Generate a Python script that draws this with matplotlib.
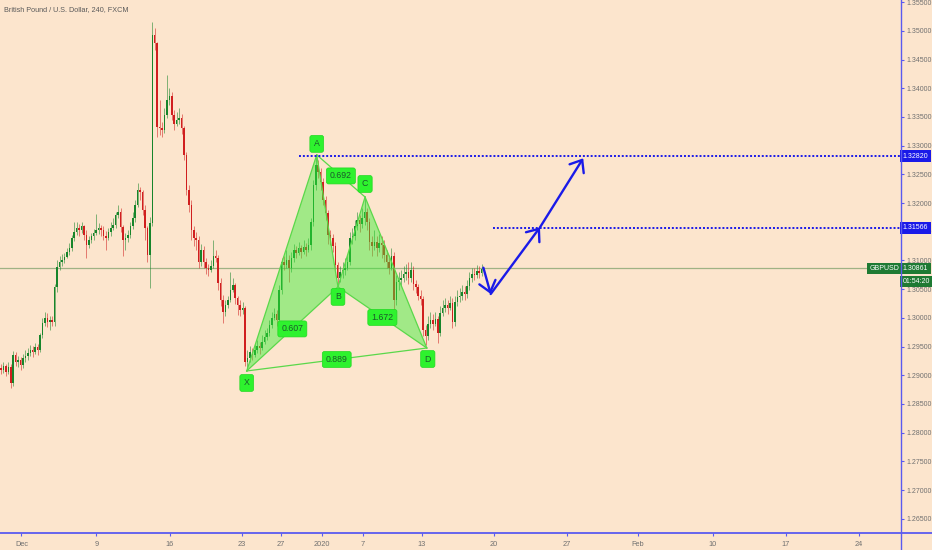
import matplotlib
matplotlib.use("Agg")
import matplotlib.pyplot as plt
import numpy as np
from matplotlib.lines import Line2D

plt.rcParams["font.family"] = ["Liberation Sans", "DejaVu Sans"]

# GBPUSD 4h candles, open = previous close
first_open = 1.2913
closes = [1.2909, 1.2916, 1.2906, 1.2914, 1.2887, 1.2935, 1.2923, 1.2927, 1.2918, 1.2930,
          1.2934, 1.2939, 1.2944, 1.2941, 1.2949, 1.2944, 1.2970, 1.2991, 1.3000, 1.2993,
          1.2996, 1.2993, 1.3054, 1.3089, 1.3097, 1.3101, 1.3106, 1.3115, 1.3122, 1.3139,
          1.3150, 1.3157, 1.3153, 1.3160, 1.3144, 1.3127, 1.3136, 1.3143, 1.3148, 1.3153,
          1.3157, 1.3153, 1.3143, 1.3139, 1.3150, 1.3157, 1.3162, 1.3179, 1.3185, 1.3158,
          1.3136, 1.3139, 1.3144, 1.3160, 1.3174, 1.3197, 1.3223, 1.3219, 1.3188, 1.3157,
          1.3110, 1.3165, 1.3493, 1.3479, 1.3333, 1.3331, 1.3327, 1.3354, 1.3380, 1.3387,
          1.3354, 1.3338, 1.3345, 1.3348, 1.3331, 1.3284, 1.3223, 1.3197, 1.3153, 1.3139,
          1.3136, 1.3097, 1.3118, 1.3097, 1.3087, 1.3084, 1.3090, 1.3108, 1.3104, 1.3061,
          1.3031, 1.3010, 1.3022, 1.3031, 1.3049, 1.3057, 1.3035, 1.3022, 1.3014, 1.3017,
          1.2923, 1.2930, 1.2941, 1.2935, 1.2944, 1.2951, 1.2948, 1.2958, 1.2967, 1.2974,
          1.2988, 1.3000, 1.3007, 1.2996, 1.3049, 1.3097, 1.3092, 1.3101, 1.3087, 1.3104,
          1.3118, 1.3113, 1.3122, 1.3115, 1.3124, 1.3118, 1.3127, 1.3167, 1.3232, 1.3266,
          1.3254, 1.3237, 1.3205, 1.3183, 1.3144, 1.3139, 1.3125, 1.3092, 1.3070, 1.3080,
          1.3084, 1.3087, 1.3097, 1.3139, 1.3143, 1.3160, 1.3171, 1.3164, 1.3174, 1.3185,
          1.3167, 1.3132, 1.3125, 1.3132, 1.3122, 1.3130, 1.3127, 1.3110, 1.3097, 1.3087,
          1.3108, 1.3031, 1.3063, 1.3066, 1.3070, 1.3077, 1.3080, 1.3070, 1.3084, 1.3059,
          1.3054, 1.3038, 1.3033, 1.2979, 1.2968, 1.2989, 1.2996, 1.2989, 1.2998, 1.2974,
          1.3009, 1.3017, 1.3022, 1.3017, 1.3026, 1.2993, 1.3028, 1.3036, 1.3038, 1.3045,
          1.3042, 1.3056, 1.3070, 1.3077, 1.3075, 1.3082, 1.3078, 1.3086]
highs = [1.2920, 1.2923, 1.2920, 1.2923, 1.2920, 1.2942, 1.2941, 1.2934, 1.2932, 1.2937,
         1.2944, 1.2948, 1.2953, 1.2951, 1.2956, 1.2955, 1.2974, 1.3000, 1.3010, 1.3009,
         1.3003, 1.3003, 1.3059, 1.3101, 1.3108, 1.3111, 1.3113, 1.3122, 1.3130, 1.3144,
         1.3167, 1.3167, 1.3164, 1.3167, 1.3162, 1.3153, 1.3143, 1.3148, 1.3155, 1.3181,
         1.3165, 1.3162, 1.3160, 1.3151, 1.3157, 1.3167, 1.3174, 1.3185, 1.3197, 1.3192,
         1.3162, 1.3148, 1.3153, 1.3167, 1.3185, 1.3205, 1.3235, 1.3228, 1.3223, 1.3197,
         1.3160, 1.3176, 1.3516, 1.3505, 1.3481, 1.3380, 1.3341, 1.3366, 1.3423, 1.3401,
         1.3394, 1.3362, 1.3359, 1.3366, 1.3355, 1.3334, 1.3289, 1.3232, 1.3205, 1.3160,
         1.3150, 1.3143, 1.3129, 1.3125, 1.3104, 1.3094, 1.3101, 1.3136, 1.3118, 1.3110,
         1.3070, 1.3040, 1.3031, 1.3038, 1.3080, 1.3070, 1.3061, 1.3038, 1.3031, 1.3028,
         1.3021, 1.2944, 1.2951, 1.2948, 1.2955, 1.2962, 1.2958, 1.2970, 1.2979, 1.2983,
         1.2996, 1.3010, 1.3017, 1.3014, 1.3057, 1.3104, 1.3108, 1.3118, 1.3110, 1.3115,
         1.3129, 1.3125, 1.3132, 1.3127, 1.3136, 1.3130, 1.3139, 1.3174, 1.3240, 1.3284,
         1.3275, 1.3261, 1.3244, 1.3212, 1.3188, 1.3153, 1.3146, 1.3132, 1.3097, 1.3090,
         1.3097, 1.3104, 1.3110, 1.3150, 1.3157, 1.3171, 1.3185, 1.3179, 1.3192, 1.3211,
         1.3192, 1.3174, 1.3143, 1.3153, 1.3143, 1.3146, 1.3143, 1.3136, 1.3118, 1.3110,
         1.3122, 1.3115, 1.3075, 1.3080, 1.3084, 1.3090, 1.3094, 1.3097, 1.3097, 1.3090,
         1.3066, 1.3059, 1.3049, 1.3038, 1.2988, 1.3003, 1.3010, 1.3007, 1.3010, 1.3003,
         1.3021, 1.3031, 1.3035, 1.3031, 1.3038, 1.3035, 1.3038, 1.3049, 1.3052, 1.3057,
         1.3056, 1.3066, 1.3080, 1.3087, 1.3087, 1.3092, 1.3090, 1.3094]
lows = [1.2902, 1.2904, 1.2899, 1.2902, 1.2878, 1.2881, 1.2916, 1.2914, 1.2909, 1.2913,
        1.2923, 1.2927, 1.2934, 1.2932, 1.2937, 1.2935, 1.2941, 1.2965, 1.2986, 1.2984,
        1.2979, 1.2986, 1.2986, 1.3045, 1.3084, 1.3090, 1.3096, 1.3104, 1.3110, 1.3117,
        1.3134, 1.3144, 1.3143, 1.3148, 1.3136, 1.3104, 1.3122, 1.3130, 1.3136, 1.3144,
        1.3146, 1.3143, 1.3136, 1.3118, 1.3136, 1.3143, 1.3153, 1.3157, 1.3174, 1.3150,
        1.3108, 1.3118, 1.3132, 1.3139, 1.3155, 1.3167, 1.3194, 1.3205, 1.3179, 1.3136,
        1.3097, 1.3052, 1.3160, 1.3467, 1.3315, 1.3319, 1.3315, 1.3322, 1.3348, 1.3371,
        1.3345, 1.3327, 1.3334, 1.3338, 1.3320, 1.3275, 1.3214, 1.3185, 1.3136, 1.3125,
        1.3118, 1.3087, 1.3090, 1.3087, 1.3077, 1.3073, 1.3080, 1.3087, 1.3097, 1.3049,
        1.3021, 1.2991, 1.3003, 1.3017, 1.3028, 1.3045, 1.3024, 1.3005, 1.3003, 1.3007,
        1.2916, 1.2908, 1.2923, 1.2927, 1.2932, 1.2939, 1.2937, 1.2944, 1.2955, 1.2962,
        1.2968, 1.2982, 1.2996, 1.2986, 1.2993, 1.3042, 1.3084, 1.3087, 1.3063, 1.3080,
        1.3097, 1.3104, 1.3110, 1.3104, 1.3111, 1.3108, 1.3115, 1.3118, 1.3160, 1.3223,
        1.3244, 1.3223, 1.3197, 1.3171, 1.3129, 1.3127, 1.3115, 1.3084, 1.3054, 1.3063,
        1.3070, 1.3075, 1.3084, 1.3092, 1.3129, 1.3136, 1.3153, 1.3150, 1.3157, 1.3162,
        1.3153, 1.3118, 1.3108, 1.3118, 1.3108, 1.3115, 1.3104, 1.3097, 1.3087, 1.3077,
        1.3084, 1.3014, 1.3022, 1.3049, 1.3056, 1.3063, 1.3066, 1.3059, 1.3063, 1.3049,
        1.3043, 1.3031, 1.3022, 1.2968, 1.2953, 1.2962, 1.2982, 1.2979, 1.2986, 1.2956,
        1.2968, 1.3003, 1.3010, 1.3007, 1.3014, 1.2982, 1.2986, 1.3021, 1.3028, 1.3031,
        1.3031, 1.3035, 1.3049, 1.3063, 1.3066, 1.3070, 1.3070, 1.3073]

# date ticks, in bar positions
tick_bars = [8.4, 39.1, 69.1, 98.6, 114.8, 131.6, 148.4, 172.5, 202.0, 232.0, 261.1, 291.8, 321.7, 351.6]
tick_labels = ["Dec", "9", "16", "23", "27", "2020", "7", "13", "20", "27", "Feb", "10", "17", "24"]

# XABCD pattern
pattern_names = ["X", "A", "B", "C", "D"]
pattern_bars = [100.7, 129.4, 138.1, 149.2, 174.5]
pattern_prices = [1.29075, 1.32840, 1.30540, 1.32106, 1.29475]
ratio_labels = {"XB": "0.607", "AC": "0.692", "BD": "1.672", "XD": "0.889"}

# drawn levels and projection arrows
levels = [1.32820, 1.31566]
level_start = [122.1, 201.5]
last_price = 1.30861
countdown = "01:54:20"
arrow_bars = [197.7, 200.7, 220.9, 238.6]
arrow_prices = [1.30874, 1.30416, 1.31578, 1.32780]

BG = "#fce5cd"
BLUE = "#1a1ae8"
AXBLUE = "#5a5af0"
GREEN = "#17852b"
RED = "#d01f1f"
TXT = "#707070"
LBL_GREEN = "#1e7a33"

W, H = 932, 550
fig = plt.figure(figsize=(W / 100, H / 100), dpi=100, facecolor=BG)
ax = fig.add_axes([0, 17 / H, 901 / W, 533 / H], facecolor=BG)
ax.set_xlim(-0.41, 368.85)
ax.set_ylim(1.26252, 1.35538)

# candles
closes = np.array(closes)
opens = np.concatenate([[first_open], closes[:-1]])
highs = np.maximum(np.array(highs), np.maximum(opens, closes))
lows = np.minimum(np.array(lows), np.minimum(opens, closes))
idx = np.arange(len(closes))
up = closes >= opens
col = np.where(up, GREEN, RED)
ax.vlines(idx[up], lows[up], highs[up], color=GREEN, alpha=0.55, lw=0.7, zorder=2)
ax.vlines(idx[~up], lows[~up], highs[~up], color=RED, alpha=0.55, lw=0.7, zorder=2)
body_h = np.maximum(np.abs(closes - opens), 0.00012)
ax.bar(idx, body_h, bottom=np.minimum(opens, closes), width=0.62, color=col, lw=0, zorder=3)

# last price line
ax.axhline(last_price, color="#8faa78", lw=0.9, alpha=0.85, zorder=1)

# harmonic pattern
P = dict(zip(pattern_names, zip(pattern_bars, pattern_prices)))
fill_kw = dict(facecolor="#33ee33", alpha=0.45, edgecolor="none", zorder=4)
for tri in (("X", "A", "B"), ("B", "C", "D")):
    ax.fill([P[k][0] for k in tri], [P[k][1] for k in tri], **fill_kw)
edge_kw = dict(color="#5ad84a", lw=0.9, zorder=5)
for a, b in (("X", "A"), ("A", "B"), ("B", "C"), ("C", "D"), ("X", "B"), ("B", "D"), ("A", "C"), ("X", "D")):
    ax.plot([P[a][0], P[b][0]], [P[a][1], P[b][1]], **edge_kw)

box = dict(boxstyle="round,pad=0.4,rounding_size=0.25", fc="#2ef22e", ec="#22d822", lw=0.5)
for key, txt in ratio_labels.items():
    a, b = key[0], key[1]
    mx = (P[a][0] + P[b][0]) / 2
    my = (P[a][1] + P[b][1]) / 2
    ax.text(mx, my, txt, fontsize=6.3, color="#1b5a2a", ha="center", va="center", bbox=box, zorder=7)

offsets = {"X": (0, -12), "A": (0, 11), "B": (0, -10), "C": (0, 13), "D": (1, -11)}
for n in pattern_names:
    ax.annotate(n, P[n], xytext=offsets[n], textcoords="offset pixels", fontsize=6.3,
                color="#1b5a2a", ha="center", va="center", zorder=7,
                bbox=dict(boxstyle="round,pad=0.45,rounding_size=0.25", fc="#2ef22e", ec="#22d822", lw=0.5))

# blue dotted levels
for lv, x0 in zip(levels, level_start):
    ax.hlines(lv, x0, 368.85, color=BLUE, lw=1.4, linestyles=(0, (1, 1)), zorder=5)

# projection arrows
arrow_kw = dict(arrowstyle="->,head_length=0.5,head_width=0.4", color=BLUE, lw=1.7,
                mutation_scale=15, shrinkA=0, shrinkB=0)
for k in range(len(arrow_bars) - 1):
    ax.annotate("", xy=(arrow_bars[k + 1], arrow_prices[k + 1]),
                xytext=(arrow_bars[k], arrow_prices[k]), arrowprops=arrow_kw, zorder=6)

# axes styling
for s in ax.spines.values():
    s.set_visible(False)
ax.yaxis.tick_right()
ax.set_yticks(np.arange(1.265, 1.3551, 0.005))
ax.yaxis.set_major_formatter(matplotlib.ticker.FormatStrFormatter("%.5f"))
ax.tick_params(axis="y", direction="out", length=2.5, width=0.8, color=AXBLUE,
               labelsize=5, labelcolor=TXT, pad=1.5)
ax.set_xticks(tick_bars, tick_labels)
ax.tick_params(axis="x", direction="out", length=2.5, width=0.8, color=AXBLUE,
               labelsize=5.3, labelcolor=TXT, pad=3.5)

fig.add_artist(Line2D([0, 1], [17 / H, 17 / H], transform=fig.transFigure, color=AXBLUE, lw=1.3))
fig.add_artist(Line2D([901 / W, 901 / W], [0, 1], transform=fig.transFigure, color=AXBLUE, lw=1.0))

# price-scale labels (boxes sit over the tick labels they cover, as on the chart)
ytr = ax.get_yaxis_transform()
lab_kw = dict(fontsize=5, color="white", va="center", clip_on=False, zorder=8)
for lv in levels:
    ax.text(1.002, lv, f"{lv:.5f}", transform=ytr, ha="left",
            bbox=dict(boxstyle="square,pad=0.35", fc=BLUE, ec=BLUE, lw=0), **lab_kw)
ax.text(1.002, last_price, f"{last_price:.5f}", transform=ytr, ha="left",
        bbox=dict(boxstyle="square,pad=0.35", fc=LBL_GREEN, ec=LBL_GREEN, lw=0), **lab_kw)
ax.text(0.9985, last_price, "GBPUSD", transform=ytr, ha="right",
        bbox=dict(boxstyle="square,pad=0.35", fc=LBL_GREEN, ec=LBL_GREEN, lw=0), **lab_kw)
ax.annotate(countdown, (1.002, last_price), xycoords=ytr, xytext=(0, -13), textcoords="offset pixels",
            fontsize=5, color="white", ha="left", va="center", annotation_clip=False, zorder=8,
            bbox=dict(boxstyle="square,pad=0.35", fc=LBL_GREEN, ec=LBL_GREEN, lw=0))

fig.text(4 / W, 1 - 10 / H, "British Pound / U.S. Dollar, 240, FXCM", fontsize=5.2, color="#5a5a5a",
         ha="left", va="center")

fig.savefig("out.png", dpi=100, facecolor=BG)
